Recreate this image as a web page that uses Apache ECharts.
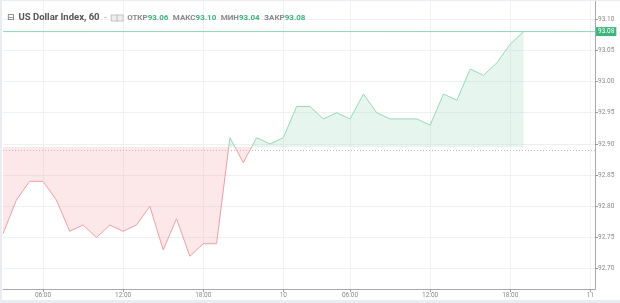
<!DOCTYPE html>
<html>
<head>
<meta charset="utf-8">
<script src="https://cdn.jsdelivr.net/npm/echarts@6/dist/echarts.min.js"></script>
<style>
html,body{margin:0;padding:0;background:#e9edf1;width:620px;height:303px;overflow:hidden;}
#chart{position:absolute;left:2px;top:1px;width:618px;height:299px;background:#fff;}
</style>
</head>
<body>
<div id="chart"></div>
<script>
// hourly bar index (0 = 03:00 of day 9)
const barIndex = [0,1,2,3,4,5,6,7,8,9,10,11,12,13,14,15,16,17,18,19,20,21,22,23,24,25,26,27,28,29,30,31,32,33,34,35,36,37,38,39];
const closeValues = [92.756,92.81,92.84,92.84,92.81,92.76,92.77,92.75,92.77,92.76,92.77,92.80,92.73,92.78,92.72,92.74,92.74,92.91,92.87,92.91,92.90,92.91,92.96,92.96,92.94,92.95,92.94,92.98,92.95,92.94,92.94,92.94,92.93,92.98,92.97,93.02,93.01,93.03,93.06,93.08];
const baseline = 92.895;
const lastPrice = 93.08;
const xMax = 44.35;
const xTickPos = [3,9,15,21,26,32,38,44];
const xTickLabels = ['06:00','12:00','18:00','10','06:00','12:00','18:00','11'];
const yTicks = [92.70,92.75,92.80,92.85,92.90,92.95,93.00,93.05,93.10];
const headerLabels = ['ОТКР','МАКС','МИН','ЗАКР'];
const headerValues = ['93.06','93.10','93.04','93.08'];

const red = '#f39ca4';
const green = '#96d8bb';
const font = 'Roboto';

let titleText = '{icon|⊟} {name|US Dollar Index, 60} {dash|-} {box|}{sp|}{box|} ';
titleText += headerLabels.map((l,i)=>'{lab|'+l+'}{val|'+headerValues[i]+'}').join(' ');

const chart = echarts.init(document.getElementById('chart'));
chart.setOption({
  animation:false,
  backgroundColor:'#fff',
  title:{
    left:0, top:3,
    text:titleText,
    textStyle:{
      fontFamily:font,
      rich:{
        icon:{fontSize:8.5,color:'#777',fontFamily:'DejaVu Sans'},
        name:{fontSize:9.5,color:'#555',fontFamily:font},
        dash:{fontSize:8,color:'#aaa'},
        box:{width:5,height:5,backgroundColor:'#eee',borderColor:'#c4c4c4',borderWidth:1},
        sp:{width:1},
        lab:{fontSize:8,color:'#888',fontFamily:font},
        val:{fontSize:8,color:'#3db27a',fontFamily:font}
      }
    }
  },
  grid:{left:1,right:25,top:0,bottom:11,show:false},
  visualMap:{
    show:false, type:'piecewise', dimension:1, seriesIndex:0,
    pieces:[{min:92.0,max:baseline,color:red},{gt:baseline,max:94.0,color:green}]
  },
  xAxis:{
    type:'value', min:0, max:xMax,
    axisLine:{show:true,onZero:false,lineStyle:{color:'#a9a9a9',width:1}},
    axisTick:{show:true,length:3,lineStyle:{color:'#999'},customValues:xTickPos},
    axisLabel:{customValues:xTickPos,fontSize:6.5,color:'#8a8a8a',fontFamily:font,margin:3,
      formatter:function(v){const k=xTickPos.indexOf(Math.round(v));return k>=0?xTickLabels[k]:'';}},
    splitLine:{show:true,lineStyle:{color:'#eef1f4',width:1}}
  },
  yAxis:{
    type:'value', position:'right', min:92.6675, max:93.129,
    axisLine:{show:true,onZero:false,lineStyle:{color:'#a9a9a9',width:1}},
    axisTick:{show:true,length:3,lineStyle:{color:'#999'},customValues:yTicks},
    axisLabel:{customValues:yTicks,fontSize:6.5,color:'#8a8a8a',fontFamily:font,margin:3,
      formatter:function(v){return v.toFixed(2);}},
    splitLine:{show:true,lineStyle:{color:'#eef1f4',width:1}}
  },
  series:[{
    type:'line',
    z:3,
    data:barIndex.map((x,i)=>[x,closeValues[i]]),
    symbol:'none',
    lineStyle:{width:1},
    areaStyle:{origin:baseline,opacity:0.24},
    markLine:{
      silent:true, symbol:'none', animation:false,
      data:[
        {yAxis:baseline,lineStyle:{type:[1,2],color:'#bdbdbd',width:1},label:{show:false}}
      ]
    }
  },{
    type:'line',
    z:4,
    clip:false,
    data:[[0,lastPrice],[xMax,lastPrice]],
    symbol:'none',
    color:'#8fd6b6',
    lineStyle:{width:1,color:'#8fd6b6'},
    endLabel:{show:true,distance:1,formatter:function(){return lastPrice.toFixed(2);},fontSize:6.5,color:'#fff',fontFamily:font,
      backgroundColor:'#3fb57e',padding:[1,2,1,2]}
  }]
});
</script>
</body>
</html>
